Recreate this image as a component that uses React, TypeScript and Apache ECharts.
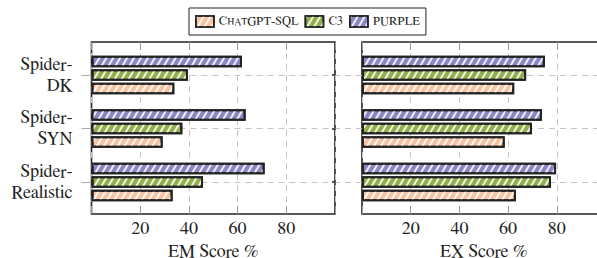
import React, { useEffect, useRef } from "react";
import * as echarts from "echarts";

const categories = ["Spider-DK", "Spider-SYN", "Spider-Realistic"];
const seriesNames = ["ChatGPT-SQL", "C3", "PURPLE"];
const emChatGPT = [34.0, 29.2, 33.3];
const emC3 = [39.6, 37.3, 45.8];
const emPurple = [61.8, 63.3, 71.1];
const exChatGPT = [62.5, 58.6, 63.2];
const exC3 = [67.4, 69.8, 77.6];
const exPurple = [75.1, 73.9, 79.7];
const xTickLabels = [20, 40, 60, 80];
const axisNames = ["EM Score %", "EX Score %"];

const colors: Record<string, string> = {
  "ChatGPT-SQL": "#F8C3A3",
  C3: "#8FB04A",
  PURPLE: "#8B87C6",
};

const FONT = "FreeSerif, 'Nimbus Roman', 'Liberation Serif', 'Noto Serif', 'DejaVu Serif'";
const TEXT = "#222";
const GRIDC = "#c4c4c4";
const W = 620;

const hatch = {
  symbol: "rect",
  symbolSize: 1,
  dashArrayX: [1, 0],
  dashArrayY: [1.3, 4],
  rotation: -Math.PI / 3,
  color: "rgba(255,255,255,0.85)",
};

export default function App() {
  const ref = useRef<HTMLDivElement>(null);
  useEffect(() => {
    if (!ref.current) return;
    const chart = echarts.init(ref.current, undefined, { renderer: "svg" });

    const panels = [
      { left: 91.5, width: 243.5, data: [emPurple, emC3, emChatGPT], name: axisNames[0] },
      { left: 362, width: 243.5, data: [exPurple, exC3, exChatGPT], name: axisNames[1] },
    ];
    const order = ["PURPLE", "C3", "ChatGPT-SQL"];

    const grid: any[] = [];
    const xAxis: any[] = [];
    const yAxis: any[] = [];
    const series: any[] = [];

    panels.forEach((p, i) => {
      const right = W - p.left - p.width;
      const gFrame = grid.length;
      grid.push({
        left: p.left,
        right,
        top: 42,
        bottom: 258 - 214,
        outerBoundsMode: "none",
        containLabel: false,
        show: true,
        borderColor: "#222",
        borderWidth: 1.6,
        backgroundColor: "transparent",
      });
      const gData = grid.length;
      grid.push({ left: p.left, right, top: 48.25, bottom: 258 - 208.75, outerBoundsMode: "none", containLabel: false });

      xAxis.push({
        gridIndex: gFrame,
        type: "value",
        min: 0,
        max: 100,
        interval: 20,
        axisLine: { show: false },
        axisTick: { show: true, inside: true, length: 8, lineStyle: { color: "#999" } },
        axisLabel: {
          margin: 6,
          fontFamily: FONT,
          fontSize: 18,
          color: TEXT,
          formatter: (v: number) => (xTickLabels.includes(v) ? String(v) : ""),
        },
        splitLine: { show: true, lineStyle: { color: GRIDC, type: [6, 5], width: 1 } },
        name: p.name,
        nameLocation: "middle",
        nameGap: 25,
        nameTextStyle: { fontFamily: FONT, fontSize: 18, color: TEXT },
      });
      xAxis.push({
        gridIndex: gFrame,
        type: "value",
        position: "top",
        min: 0,
        max: 100,
        interval: 20,
        axisLine: { show: false },
        axisTick: { show: true, inside: true, length: 8, lineStyle: { color: "#999" } },
        axisLabel: { show: false },
        splitLine: { show: false },
      });
      const xData = xAxis.length;
      xAxis.push({ gridIndex: gData, type: "value", min: 0, max: 100, show: false });

      yAxis.push({ gridIndex: gFrame, type: "value", show: false });
      const yData = yAxis.length;
      yAxis.push({
        gridIndex: gData,
        type: "category",
        data: categories,
        inverse: true,
        axisLine: { show: false },
        axisTick:
          i === 0
            ? { show: true, alignWithLabel: true, length: 10, lineStyle: { color: "#aaa" } }
            : { show: true, alignWithLabel: true, length: 26.5, lineStyle: { color: GRIDC, type: [6, 5] } },
        axisLabel:
          i === 0
            ? {
                show: true,
                margin: 19,
                fontFamily: FONT,
                fontSize: 18,
                lineHeight: 21,
                color: TEXT,
                formatter: (v: string) => v.replace("-", "-\n"),
              }
            : { show: false },
        splitLine: { show: true, alignWithLabel: true, lineStyle: { color: GRIDC, type: [6, 5], width: 1 } },
      });
      if (i === 0) {
        yAxis.push({
          gridIndex: gData,
          type: "category",
          data: categories,
          inverse: true,
          position: "right",
          axisLine: { show: false },
          axisTick: { show: true, alignWithLabel: true, inside: true, length: 3, lineStyle: { color: "#222", width: 1.5 } },
          axisLabel: { show: false },
          splitLine: { show: false },
        });
      }

      order.forEach((n, k) => {
        series.push({
          type: "bar",
          name: n,
          xAxisIndex: xData,
          yAxisIndex: yData,
          data: p.data[k],
          barWidth: 11.5,
          barGap: "18%",
          silent: true,
          itemStyle: { color: colors[n], borderColor: "#222", borderWidth: 2, decal: hatch },
        });
      });
    });

    chart.setOption({
      animation: false,
      backgroundColor: "#fff",
      textStyle: { fontFamily: FONT },
      legend: {
        data: seriesNames,
        left: 189,
        top: 8,
        padding: [7, 6, 7, 6],
        borderColor: "#222",
        borderWidth: 1,
        backgroundColor: "#fff",
        icon: "rect",
        itemWidth: 18,
        itemHeight: 11,
        itemGap: 6,
        itemStyle: { borderColor: "#222", borderWidth: 1.7 },
        textStyle: {
          fontFamily: FONT,
          fontSize: 12.5,
          color: TEXT,
          rich: {
            a: { fontFamily: FONT, fontSize: 12.5, color: TEXT },
            b: { fontFamily: FONT, fontSize: 10, color: TEXT },
          },
        },
        formatter: (name: string) => (name === "ChatGPT-SQL" ? "{a|C}{b|HAT}{a|GPT-SQL}" : name),
      },
      grid,
      xAxis,
      yAxis,
      series,
    });
    return () => chart.dispose();
  }, []);
  return (
    <div style={{ position: "absolute", left: 0, top: 0, width: 597, height: 258, overflow: "hidden" }}>
      <div ref={ref} style={{ width: W, height: 258 }} />
    </div>
  );
}
